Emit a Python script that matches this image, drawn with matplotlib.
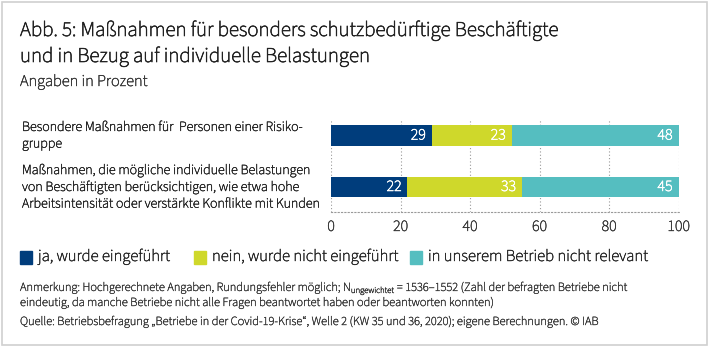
import matplotlib
matplotlib.use("Agg")
import matplotlib.pyplot as plt
import matplotlib.patheffects as pe
from matplotlib.patches import Rectangle

plt.rcParams['font.family'] = ['Source Sans 3', 'Source Sans Pro', 'Fira Sans Condensed',
                               'DejaVu Sans']
plt.rcParams['mathtext.fontset'] = 'custom'
plt.rcParams['mathtext.rm'] = 'Source Sans 3'

# Survey shares in percent
categories = [
    "Besondere Maßnahmen für  Personen einer Risiko-\ngruppe",
    "Maßnahmen, die mögliche individuelle Belastungen\n"
    "von Beschäftigten berücksichtigen, wie etwa hohe\n"
    "Arbeitsintensität oder verstärkte Konflikte mit Kunden",
]
series_names = ["ja, wurde eingeführt", "nein, wurde nicht eingeführt",
                "in unserem Betrieb nicht relevant"]
ja = [29, 22]
nein = [23, 33]
nicht_relevant = [48, 45]
x_ticks = [0, 20, 40, 60, 80, 100]

colors = ["#003d7c", "#cfd82b", "#55bec0"]

W, H = 710, 348


def fx(px):
    return px / W


def fy(py):
    return 1 - py / H


def thick(color, lw=0.3):
    # the installed face is light, so stroke the glyphs a little
    return [pe.withStroke(linewidth=lw, foreground=color)]


fig = plt.figure(figsize=(W / 100, H / 100), dpi=100)
fig.patches.append(Rectangle((fx(2), fy(345)), fx(705), 343 / H,
                             transform=fig.transFigure, fill=False,
                             edgecolor="#d0d0d0", linewidth=1.2))

# titles
title_c = "#222222"
fig.text(fx(20), fy(36), "Abb. 5: Maßnahmen für besonders schutzbedürftige Beschäftigte",
         fontsize=15.1, color=title_c, va="baseline", path_effects=thick(title_c, 0.45))
fig.text(fx(20), fy(62), "und in Bezug auf individuelle Belastungen",
         fontsize=15.1, color=title_c, va="baseline", path_effects=thick(title_c, 0.45))
fig.text(fx(20), fy(86), "Angaben in Prozent", fontsize=11.8, color="#333333",
         va="baseline", path_effects=thick("#333333"))

# bar chart area
ax = fig.add_axes([fx(331), fy(212), fx(678.5) - fx(331), (212 - 119) / H])
y = [0, 1]
left = [0, 0]
for vals, c in zip([ja, nein, nicht_relevant], colors):
    ax.barh(y, vals, left=left, height=0.4, color=c, zorder=2)
    for yi, l, v in zip(y, left, vals):
        ax.text(l + v - 1.7, yi, str(v), color="white", fontsize=11.5,
                ha="right", va="center", zorder=3, path_effects=thick("white", 0.4))
    left = [a + b for a, b in zip(left, vals)]

ax.set_xlim(0, 100)
ax.set_ylim(1 + 25 / 51.5, -16.5 / 51.5)
ax.set_xticks(x_ticks)
ax.set_xticklabels([str(t) for t in x_ticks], fontsize=11.5, color="#333333")
for lbl in ax.get_xticklabels():
    lbl.set_path_effects(thick("#333333"))
ax.tick_params(axis="x", length=0, pad=5)
ax.set_yticks([])
ax.grid(axis="x", linestyle=(0, (1, 2)), color="#999999", linewidth=0.8, zorder=0)
for s in ["top", "right", "left"]:
    ax.spines[s].set_visible(False)
ax.spines["bottom"].set_linestyle((0, (1, 2)))
ax.spines["bottom"].set_color("#999999")
ax.spines["bottom"].set_linewidth(0.8)
ax.set_facecolor("none")

# category labels start at a fixed left edge
for yi, cat in zip(y, categories):
    ax.annotate(cat, xy=(fx(22), yi), xycoords=("figure fraction", "data"),
                ha="left", va="center", fontsize=10.05, color="#222222",
                linespacing=1.3, path_effects=thick("#222222"))

# legend
legend_x = [20, 194, 410]
for lx, name, c in zip(legend_x, series_names, colors):
    fig.patches.append(Rectangle((fx(lx), fy(264)), fx(12), 13 / H,
                                 transform=fig.transFigure, color=c))
    fig.text(fx(lx + 18), fy(257), name, fontsize=12, color="#222222", va="center",
             path_effects=thick("#222222"))

# notes
note_c = "#333333"
note_kw = dict(fontsize=8.95, color=note_c, va="baseline", path_effects=thick(note_c, 0.25))
fig.text(fx(20), fy(291),
         "Anmerkung: Hochgerechnete Angaben, Rundungsfehler möglich; "
         r"N$_{\mathregular{ungewichtet}}$ = 1536–1552 (Zahl der befragten Betriebe nicht",
         **note_kw)
fig.text(fx(20), fy(306),
         "eindeutig, da manche Betriebe nicht alle Fragen beantwortet haben oder beantworten konnten)",
         **note_kw)
fig.text(fx(20), fy(325),
         "Quelle: Betriebsbefragung „Betriebe in der Covid-19-Krise“, Welle 2 "
         "(KW 35 und 36, 2020); eigene Berechnungen. © IAB",
         **note_kw)

fig.savefig("out.png", dpi=100)
